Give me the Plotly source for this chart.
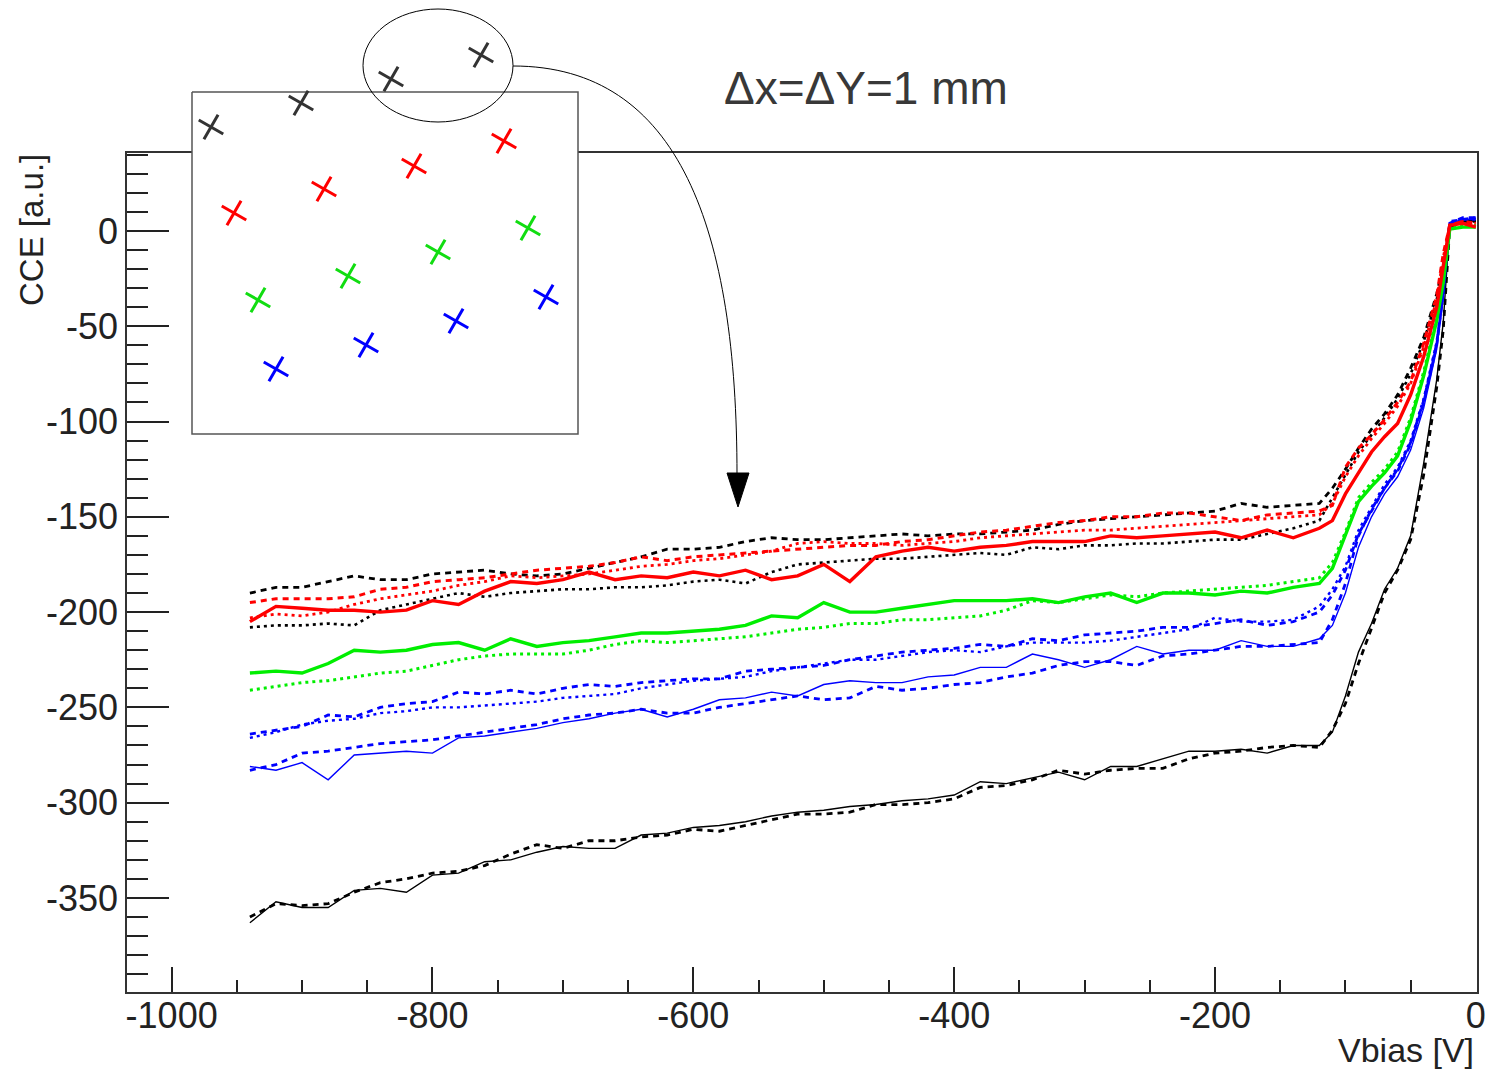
import plotly.graph_objects as go

# ---------------- data ----------------
VBIAS = [-940, -920, -900, -880, -860, -840, -820, -800, -780, -760,
         -740, -720, -700, -680, -660, -640, -620, -600, -580, -560,
         -540, -520, -500, -480, -460, -440, -420, -400, -380, -360,
         -340, -320, -300, -280, -260, -240, -220, -200, -180, -160,
         -140, -120, -110, -100, -90, -80, -70, -60, -50, -40,
         -30, -25, -20, -10, 0]

black_solid_low = [-363, -352, -355, -355, -346, -345, -347, -338, -337, -331,
                   -330, -326, -323, -324, -324, -317, -316, -313, -312, -310,
                   -307, -305, -304, -302, -301, -299, -298, -296, -289, -290,
                   -287, -284, -288, -281, -281, -277, -273, -273, -272, -274,
                   -270, -270, -263, -244, -221, -206, -188, -177, -160, -122,
                   -78, -48, 3, 5, 5]
black_dash_low = [-360, -353, -354, -353, -347, -342, -340, -337, -336, -333,
                  -327, -322, -324, -320, -320, -318, -317, -314, -315, -312,
                  -309, -306, -306, -305, -301, -301, -300, -298, -292, -291,
                  -288, -283, -285, -283, -282, -282, -277, -274, -273, -271,
                  -270, -271, -262, -248, -227, -208, -190, -178, -162, -128,
                  -82, -52, 2, 5, 6]
black_dash_up = [-190, -187, -187, -184, -181, -183, -183, -180, -179, -178,
                 -180, -181, -180, -177, -174, -171, -167, -167, -166, -163,
                 -161, -162, -162, -161, -160, -159, -160, -159, -159, -158,
                 -157, -154, -152, -151, -150, -149, -148, -147, -143, -145,
                 -144, -143, -135, -125, -114, -104, -96, -86, -72, -56,
                 -33, -18, 3, 5, 5]
black_dot_up = [-208, -207, -207, -206, -207, -199, -196, -193, -190, -192,
                -190, -189, -188, -188, -187, -187, -186, -184, -183, -185,
                -179, -175, -174, -173, -172, -172, -171, -170, -169, -170,
                -166, -167, -165, -165, -164, -164, -163, -162, -162, -159,
                -156, -152, -140, -128, -116, -107, -98, -88, -75, -58,
                -36, -20, 2, 5, 5]
red_solid = [-205, -197, -198, -199, -199, -200, -199, -194, -196, -189,
             -184, -185, -183, -179, -183, -181, -182, -179, -181, -178,
             -183, -181, -175, -184, -171, -168, -166, -168, -166, -165,
             -163, -163, -163, -160, -161, -160, -159, -158, -161, -157,
             -161, -156, -152, -138, -127, -116, -108, -101, -86, -66,
             -40, -17, 3, 4, 2]
red_dash = [-195, -193, -193, -193, -192, -188, -187, -184, -183, -182,
            -180, -178, -177, -176, -174, -171, -173, -171, -170, -169,
            -168, -167, -166, -165, -165, -163, -162, -160, -158, -157,
            -155, -153, -152, -150, -150, -148, -148, -150, -152, -149,
            -148, -147, -144, -124, -114, -107, -99, -90, -79, -59,
            -34, -12, 3, 5, 4]
red_dot = [-203, -201, -202, -200, -196, -193, -191, -189, -186, -184,
           -181, -182, -181, -180, -178, -176, -175, -173, -172, -170,
           -168, -164, -163, -164, -164, -165, -164, -163, -161, -160,
           -159, -158, -157, -157, -156, -155, -154, -153, -152, -151,
           -150, -149, -143, -129, -118, -109, -101, -92, -80, -61,
           -36, -14, 3, 5, 4]
green_solid = [-232, -231, -232, -227, -220, -221, -220, -217, -216, -220,
               -214, -218, -216, -215, -213, -211, -211, -210, -209, -207,
               -202, -203, -195, -200, -200, -198, -196, -194, -194, -194,
               -193, -195, -192, -190, -195, -190, -190, -191, -189, -190,
               -187, -185, -177, -160, -142, -134, -127, -118, -100, -76,
               -47, -27, 1, 2, 2]
green_dot = [-241, -239, -237, -236, -234, -232, -231, -228, -225, -223,
             -222, -222, -222, -220, -217, -215, -216, -215, -214, -213,
             -211, -209, -208, -206, -206, -204, -204, -203, -202, -199,
             -194, -195, -193, -191, -192, -190, -189, -188, -187, -186,
             -184, -182, -174, -158, -140, -132, -125, -116, -98, -74,
             -45, -25, 1, 3, 3]
blue_solid = [-281, -283, -279, -288, -275, -274, -273, -274, -266, -265,
              -263, -261, -258, -256, -253, -251, -255, -251, -246, -245,
              -242, -244, -238, -236, -237, -237, -234, -233, -229, -229,
              -222, -225, -229, -225, -218, -222, -220, -220, -215, -218,
              -218, -214, -207, -190, -166, -150, -138, -129, -115, -93,
              -62, -35, 4, 6, 6]
blue_dash = [-283, -280, -274, -273, -271, -269, -268, -267, -265, -263,
             -261, -259, -256, -254, -253, -251, -253, -253, -250, -248,
             -246, -244, -246, -245, -239, -241, -240, -238, -237, -234,
             -232, -228, -226, -226, -228, -223, -222, -220, -218, -218,
             -217, -216, -204, -185, -160, -146, -135, -126, -112, -90,
             -60, -33, 4, 7, 7]
blue_dot = [-266, -263, -259, -257, -256, -253, -252, -250, -250, -249,
            -248, -247, -245, -244, -243, -240, -238, -236, -235, -234,
            -231, -229, -227, -225, -225, -223, -221, -220, -221, -218,
            -216, -216, -216, -215, -213, -211, -209, -203, -205, -205,
            -204, -197, -188, -176, -157, -145, -133, -124, -110, -88,
            -58, -31, 4, 6, 6]
blue_dash_up = [-264, -262, -260, -254, -255, -250, -248, -247, -242, -243,
                -241, -243, -240, -238, -239, -237, -236, -235, -235, -231,
                -230, -229, -228, -225, -223, -221, -220, -219, -217, -218,
                -214, -215, -212, -211, -210, -208, -208, -206, -204, -207,
                -205, -200, -191, -178, -159, -147, -135, -125, -111, -89,
                -59, -32, 5, 6, 7]

# tick labels (hyphen-minus, as in the original)
X_TICKS = [-1000, -800, -600, -400, -200, 0]
X_TICK_TEXT = ["-1000", "-800", "-600", "-400", "-200", "0"]
Y_TICKS = [0, -50, -100, -150, -200, -250, -300, -350]
Y_TICK_TEXT = ["0", "-50", "-100", "-150", "-200", "-250", "-300", "-350"]

# inset sketch: cross positions (page pixels) and colours
INSET_X = [211, 301, 391, 481, 234, 324, 414, 504, 258, 348, 438, 528, 276, 366, 456, 546]
INSET_Y = [127, 103, 79, 55, 213, 189, 166, 141, 300, 276, 252, 228, 369, 345, 321, 297]
INSET_C = ["#333333"] * 4 + ["#ff0000"] * 4 + ["#11dd11"] * 4 + ["#0000ff"] * 4

W, H = 1485, 1071
FONT = "Liberation Sans, Arial, sans-serif"

BLACK, RED, GREEN, BLUE = "#000000", "#ff0000", "#00ee00", "#0000ff"
DOT = "3px,4px"
DASH = "6px,5px"

series = [
    (black_dot_up, BLACK, DOT, 2.6),
    (black_dash_up, BLACK, DASH, 2.8),
    (black_dash_low, BLACK, DASH, 2.8),
    (black_solid_low, BLACK, "solid", 1.4),
    (blue_dot, BLUE, DOT, 2.4),
    (blue_dash_up, BLUE, DASH, 2.8),
    (blue_dash, BLUE, DASH, 2.8),
    (blue_solid, BLUE, "solid", 1.4),
    (green_dot, GREEN, DOT, 3.0),
    (green_solid, GREEN, "solid", 3.4),
    (red_dot, RED, DOT, 2.8),
    (red_dash, RED, DASH, 3.0),
    (red_solid, RED, "solid", 3.4),
]

fig = go.Figure()
for ys, col, dash, w in series:
    fig.add_trace(go.Scatter(x=VBIAS, y=ys, mode="lines",
                             line=dict(color=col, dash=dash, width=w),
                             xaxis="x", yaxis="y", hoverinfo="skip"))

# inset box (page-pixel overlay axes)
bx0, by0, bx1, by1 = 192, 92, 578, 434
fig.add_trace(go.Scatter(x=[bx0, bx1, bx1, bx0, bx0], y=[by0, by0, by1, by1, by0],
                         mode="lines", fill="toself", fillcolor="white",
                         line=dict(color="#555555", width=1.5),
                         xaxis="x2", yaxis="y2", hoverinfo="skip"))
fig.add_trace(go.Scatter(x=INSET_X, y=INSET_Y, mode="markers",
                         marker=dict(symbol="x-thin", size=20, angle=-15,
                                     line=dict(width=3, color=INSET_C)),
                         xaxis="x2", yaxis="y2", hoverinfo="skip"))

tickfont = dict(family=FONT, size=36, color="#222222")
fig.update_layout(
    width=W, height=H, margin=dict(l=0, r=0, t=0, b=0),
    paper_bgcolor="white", plot_bgcolor="rgba(0,0,0,0)",
    template="none", showlegend=False,
    xaxis=dict(domain=[127.3 / W, 1476.5 / W], range=[-1034, 0.5],
               tickmode="array", tickvals=X_TICKS, ticktext=X_TICK_TEXT,
               ticks="inside", ticklen=25, tickwidth=1.5, tickcolor="#222222",
               showline=True, mirror=True, linecolor="#333333", linewidth=2,
               showgrid=False, zeroline=False, tickfont=tickfont,
               ticklabeloverflow="allow", ticklabelstandoff=-9,
               minor=dict(ticks="inside", ticklen=12, tickmode="linear", tick0=0,
                          dtick=50, tickwidth=1.5, tickcolor="#222222", showgrid=False)),
    yaxis=dict(domain=[1 - 991.7 / H, 1 - 153 / H], range=[-399.2, 40.9],
               tickmode="array", tickvals=Y_TICKS, ticktext=Y_TICK_TEXT,
               ticks="inside", ticklen=42, tickwidth=1.5, tickcolor="#222222",
               showline=True, mirror=True, linecolor="#333333", linewidth=2,
               showgrid=False, zeroline=False, tickfont=tickfont,
               ticklabeloverflow="allow",
               minor=dict(ticks="inside", ticklen=21, tickmode="linear", tick0=0,
                          dtick=10, tickwidth=1.5, tickcolor="#222222", showgrid=False)),
    xaxis2=dict(domain=[0, 1], range=[0, W], anchor="y2", visible=False),
    yaxis2=dict(domain=[0, 1], range=[H, 0], anchor="x2", visible=False),
)

# ellipse, curved arrow and arrow head (page-pixel coordinates)
fig.add_shape(type="circle", xref="x2", yref="y2", x0=363, x1=513, y0=9, y1=122,
              line=dict(color="black", width=1))
fig.add_shape(type="path", xref="x2", yref="y2",
              path="M 513,66 C 680,66 737,230 737,475",
              line=dict(color="black", width=1))
fig.add_shape(type="path", xref="x2", yref="y2",
              path="M 727,473 L 749,473 L 738,507 Z",
              fillcolor="black", line=dict(color="black", width=1))

fig.add_annotation(xref="x2", yref="y2", x=866, y=88, text="\u0394x=\u0394Y=1 mm",
                   showarrow=False, xanchor="center", yanchor="middle",
                   font=dict(family=FONT, size=46, color="#383838"))
fig.add_annotation(xref="x2", yref="y2", x=31, y=152, text="CCE [a.u.]",
                   textangle=-90, showarrow=False, xanchor="center", yanchor="top",
                   font=dict(family=FONT, size=33, color="#222222"))
fig.add_annotation(xref="x2", yref="y2", x=1476, y=1050, text="Vbias [V]",
                   showarrow=False, xanchor="right", yanchor="middle",
                   font=dict(family=FONT, size=34, color="#222222"))

fig.write_html("out.html")
